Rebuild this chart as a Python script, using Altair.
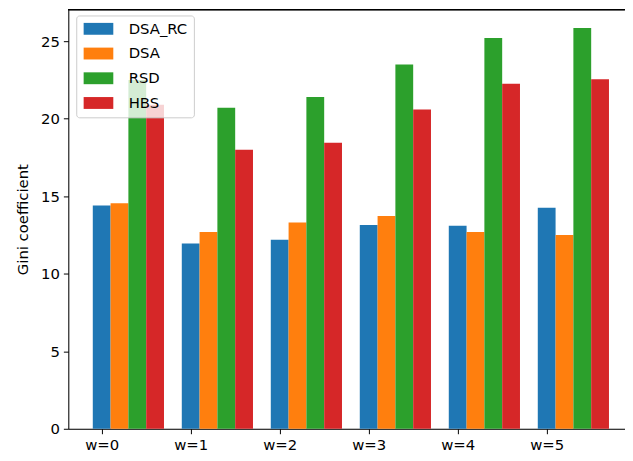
import json
import altair as alt
import pandas as pd

groups = ["w=0", "w=1", "w=2", "w=3", "w=4", "w=5"]
series = ["DSA_RC", "DSA", "RSD", "HBS"]
DSA_RC = [14.4, 11.95, 12.2, 13.15, 13.1, 14.25]
DSA = [14.55, 12.7, 13.3, 13.72, 12.7, 12.5]
RSD = [22.5, 20.7, 21.4, 23.5, 25.2, 25.85]
HBS = [20.9, 18.0, 18.45, 20.6, 22.25, 22.55]
colors = ["#1f77b4", "#ff7f0e", "#2ca02c", "#d62728"]
y_ticks = [0, 5, 10, 15, 20, 25]

values = {"DSA_RC": DSA_RC, "DSA": DSA, "RSD": RSD, "HBS": HBS}
rows = []
for k, s in enumerate(series):
    for i, g in enumerate(groups):
        rows.append({"idx": i, "k": k, "series": s, "value": values[s][i]})
df = pd.DataFrame(rows)

W, H = 563, 424
FONT = "DejaVu Sans"
FS = 15

bars = (
    alt.Chart(df)
    .transform_calculate(x0="datum.idx + datum.k*0.2 - 0.1", x1="datum.idx + datum.k*0.2 + 0.1")
    .mark_bar(strokeWidth=0)
    .encode(
        x=alt.X(
            "x0:Q",
            scale=alt.Scale(domain=[-0.375, 5.88], nice=False, zero=False, padding=0),
            axis=alt.Axis(
                values=list(range(len(groups))),
                labelExpr=f"{json.dumps(groups)}[datum.value]",
                title=None,
                grid=False,
                tickSize=5,
                labelPadding=4,
                labelFontSize=FS,
                labelFont=FONT,
                labelColor="black",
                domainColor="black",
                tickColor="black",
            ),
        ),
        x2="x1:Q",
        y=alt.Y(
            "value:Q",
            scale=alt.Scale(domain=[0, 27.04], nice=False, padding=0),
            axis=alt.Axis(
                values=y_ticks,
                title="Gini coefficient",
                titleFont=FONT,
                titleFontSize=FS,
                titleFontWeight="normal",
                titleColor="black",
                titlePadding=10,
                grid=False,
                tickSize=5,
                labelPadding=4,
                labelFontSize=FS,
                labelFont=FONT,
                labelColor="black",
                domainColor="black",
                tickColor="black",
            ),
        ),
        y2=alt.datum(0),
        color=alt.Color(
            "series:N",
            scale=alt.Scale(domain=series, range=colors),
            legend=alt.Legend(
                title=None,
                orient="none",
                legendX=8,
                legendY=6,
                symbolType="M-1,-1H4V1H-1Z",
                symbolSize=144,
                symbolStrokeWidth=0,
                symbolOpacity=1,
                labelFont=FONT,
                labelFontSize=FS,
                labelColor="black",
                labelOffset=32,
                rowPadding=9,
                padding=6,
                fillColor="rgba(255,255,255,0.8)",
                strokeColor="#cccccc",
                cornerRadius=3,
            ),
        ),
    )
)

top = alt.Chart(df).mark_rule(color="black", strokeWidth=1).encode(
    x=alt.value(0), x2=alt.value(W), y=alt.value(0)
)

chart = (
    alt.layer(bars, top)
    .properties(
        width=W,
        height=H,
        autosize=alt.AutoSizeParams(type="none"),
        padding={"left": 61, "top": -1, "right": 0, "bottom": 28},
    )
    .configure_view(stroke=None)
    .configure(background="white")
)

chart.save("out.html", embed_options={"renderer": "svg", "actions": False})
